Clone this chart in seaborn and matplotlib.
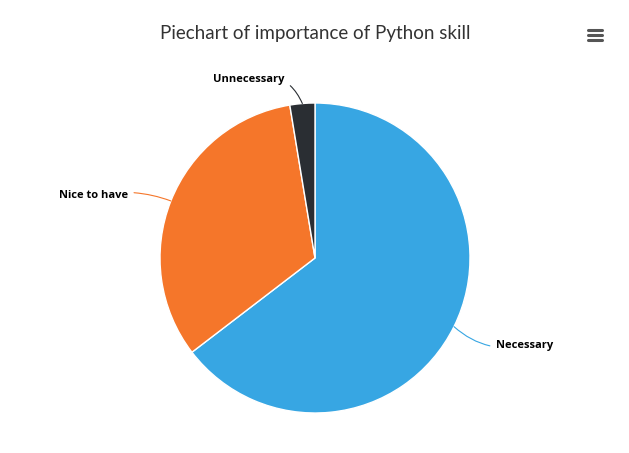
import numpy as np
import matplotlib
matplotlib.use("Agg")
import matplotlib.pyplot as plt
from matplotlib.lines import Line2D
import seaborn as sns

# data (share of answers, %)
categories = ["Necessary", "Nice to have", "Unnecessary"]
shares = [64.6, 32.8, 2.6]
colors = ["#37A6E3", "#F5762A", "#2A2E33"]
title = "Piechart of importance of Python skill"

sns.set_theme(style="white")
plt.rcParams['font.family'] = ['Lato', 'DejaVu Sans']

W, H = 629, 453
fig = plt.figure(figsize=(W / 100, H / 100), dpi=100)
fig.patch.set_facecolor("white")

# pie centre (315, 258) px, radius 155 px
cx, cy, r = 315, 258, 155
ax = fig.add_axes([(cx - r) / W, (H - cy - r) / H, 2 * r / W, 2 * r / H])
wedges, _ = ax.pie(shares, colors=colors, startangle=90, counterclock=False,
                   radius=1, wedgeprops=dict(edgecolor="white", linewidth=1))
ax.set_xlim(-1, 1)
ax.set_ylim(-1, 1)
ax.set_aspect("equal")
ax.axis("off")

# labels with curved connectors, highcharts-ish
px = 1 / r
dist = 1 + 30 * px
pad = 15 * px
drop = 6 * px
for w, lab, col in zip(wedges, categories, colors):
    mid = np.deg2rad((w.theta1 + w.theta2) / 2)
    ex, ey = np.cos(mid), np.sin(mid)
    right = ex > 0
    lx = dist * ex + (pad if right else -pad)
    ly = dist * ey - drop
    rad = -0.25 if right else -0.15
    if abs(ex) < 0.2:
        rad = -0.45
    ax.annotate(lab, xy=(ex, ey), xytext=(lx, ly),
                ha="left" if right else "right", va="center",
                fontsize=8, fontweight="bold", color="black",
                family=["Open Sans", "DejaVu Sans"],
                arrowprops=dict(arrowstyle="-", color=col, lw=0.8,
                                shrinkA=2, shrinkB=0,
                                connectionstyle=f"arc3,rad={rad}"),
                annotation_clip=False)

fig.text(cx / W, 1 - 33 / H, title, ha="center", va="center",
         fontsize=13.5, color="#333333", family=["Lato", "DejaVu Sans"])

# menu button
for yy in (30, 35, 40):
    fig.add_artist(Line2D([588 / W, 602 / W], [1 - yy / H, 1 - yy / H],
                          color="#555555", lw=2.2, solid_capstyle="round"))

fig.savefig("out.png", dpi=100)
